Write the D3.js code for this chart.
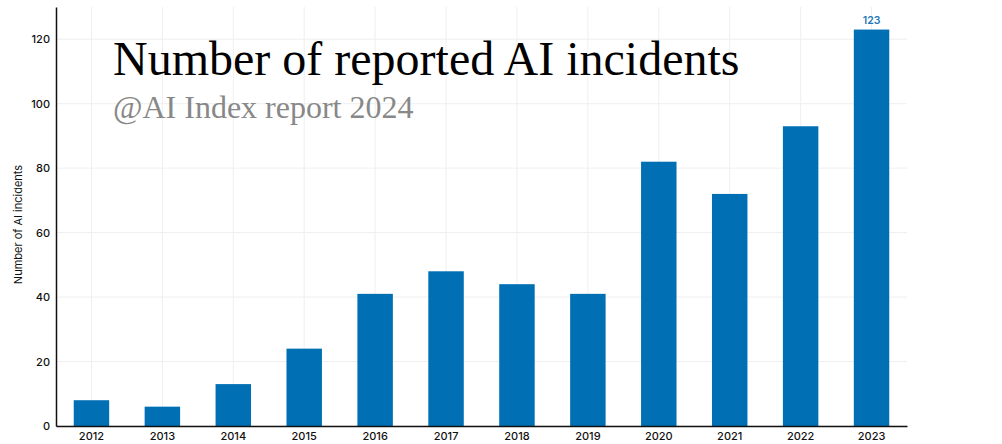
<!DOCTYPE html>
<html><head><meta charset="utf-8">
<script src="https://cdn.jsdelivr.net/npm/d3@7"></script>
<style>
html,body{margin:0;padding:0;background:#fff;}
svg{display:block;}
</style></head>
<body><svg id="chart" width="1002" height="444"></svg>
<script>
const years = ["2012","2013","2014","2015","2016","2017","2018","2019","2020","2021","2022","2023"];
const incidents = [8,6,13,24,41,48,44,41,82,72,93,123];
const yTicks = [0,20,40,60,80,100,120];
const titleText = "Number of reported AI incidents";
const subtitleText = "@AI Index report 2024";
const yAxisTitle = "Number of AI incidents";

(function(){
const svg = d3.select("#chart");
const mLeft = 56, mRight = 907, mTop = 7, mBottom = 426;
const x = d3.scaleBand().domain(years).range([mLeft, mRight]).paddingInner(0.5).paddingOuter(0.25);
const y = d3.scaleLinear().domain([0, 130]).range([mBottom, mTop]);
const font = "Inter, Roboto, 'Liberation Sans', sans-serif";

// gridlines
svg.append("g").selectAll("line").data(yTicks).join("line")
  .attr("x1", mLeft).attr("x2", mRight)
  .attr("y1", d => y(d)).attr("y2", d => y(d))
  .attr("stroke", "#efefef").attr("stroke-width", 1);
svg.append("g").selectAll("line").data(years).join("line")
  .attr("x1", d => x(d) + x.bandwidth()/2).attr("x2", d => x(d) + x.bandwidth()/2)
  .attr("y1", mTop).attr("y2", mBottom)
  .attr("stroke", "#efefef").attr("stroke-width", 1);

// bars
svg.append("g").selectAll("rect").data(years).join("rect")
  .attr("x", d => x(d)).attr("width", x.bandwidth())
  .attr("y", (d,i) => y(incidents[i])).attr("height", (d,i) => mBottom - y(incidents[i]))
  .attr("fill", "#006fb3");

// last bar label
const lastI = years.length - 1;
svg.append("text")
  .attr("x", x(years[lastI]) + x.bandwidth()/2).attr("y", y(incidents[lastI]) - 6)
  .attr("text-anchor", "middle").attr("font-family", font).attr("font-size", 10.5)
  .attr("font-weight", 600).attr("fill", "#1f78b8").text(incidents[lastI]);

// axes
const yAxis = svg.append("g").attr("transform", `translate(${mLeft},0)`)
  .call(d3.axisLeft(y).tickValues(yTicks).tickSize(0).tickPadding(6));
yAxis.select(".domain").attr("stroke", "#111").attr("stroke-width", 1.5);
yAxis.selectAll("text").attr("font-family", font).attr("font-size", 11).attr("font-weight", 500).attr("fill", "#111");

const xAxis = svg.append("g").attr("transform", `translate(0,${mBottom})`)
  .call(d3.axisBottom(x).tickSize(0).tickPadding(6));
xAxis.select(".domain").attr("stroke", "#111").attr("stroke-width", 1.5);
xAxis.selectAll("text").attr("font-family", font).attr("font-size", 11).attr("font-weight", 500).attr("fill", "#111");

// y axis title
svg.append("text")
  .attr("transform", `translate(22,${(mTop+mBottom)/2 + 8}) rotate(-90)`)
  .attr("text-anchor", "middle").attr("font-family", font).attr("font-size", 11)
  .attr("fill", "#111").text(yAxisTitle);

// title & subtitle
svg.append("text").attr("x", 113).attr("y", 75)
  .attr("font-family", "'Liberation Serif', 'Times New Roman', serif").attr("font-size", 48)
  .attr("fill", "#000").text(titleText);
svg.append("text").attr("x", 113).attr("y", 118)
  .attr("font-family", "'Liberation Serif', 'Times New Roman', serif").attr("font-size", 32)
  .attr("fill", "#888").text(subtitleText);
})();
</script></body></html>
